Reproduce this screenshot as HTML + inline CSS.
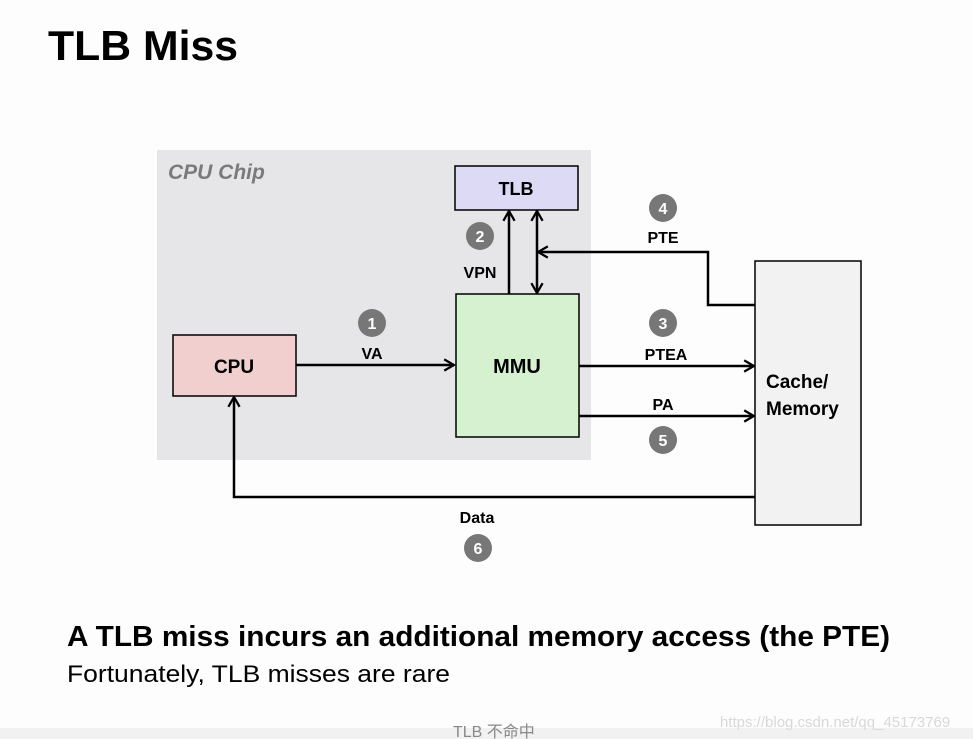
<!DOCTYPE html>
<html><head><meta charset="utf-8"><style>
html,body{margin:0;padding:0;background:#fff;}
svg{display:block;font-family:"Liberation Sans","Noto Sans CJK SC",sans-serif;}
.b{font-weight:bold;}
</style></head><body>
<svg width="973" height="739" viewBox="0 0 973 739" xmlns="http://www.w3.org/2000/svg">
<defs>
<marker id="a" viewBox="0 0 10 10" refX="9" refY="5" markerWidth="14" markerHeight="14" orient="auto-start-reverse" markerUnits="userSpaceOnUse">
<polyline points="2,1 9,5 2,9" fill="none" stroke="#000" stroke-width="1.6"/>
</marker>
</defs>
<rect x="0" y="0" width="973" height="739" fill="#fdfdfd"/>
<text x="48" y="60" class="b" font-size="42" fill="#000" textLength="190" lengthAdjust="spacingAndGlyphs">TLB Miss</text>
<rect x="157" y="150" width="434" height="310" fill="#e6e5e8"/>
<text x="168" y="179" font-size="21" font-weight="bold" font-style="italic" fill="#7a7a7a">CPU Chip</text>
<rect x="455" y="166" width="123" height="44" fill="#dcdaf5" stroke="#000" stroke-width="1.5"/>
<text x="516" y="195" class="b" font-size="18" text-anchor="middle">TLB</text>
<rect x="173" y="335" width="123" height="61" fill="#f2cfcf" stroke="#000" stroke-width="1.5"/>
<text x="234" y="373" class="b" font-size="19" text-anchor="middle">CPU</text>
<rect x="456" y="294" width="123" height="143" fill="#d5f1cf" stroke="#000" stroke-width="1.5"/>
<text x="517" y="373" class="b" font-size="20" text-anchor="middle">MMU</text>
<rect x="755" y="261" width="106" height="264" fill="#f3f2f3" stroke="#000" stroke-width="1.5"/>
<text x="766" y="388" class="b" font-size="19">Cache/</text>
<text x="766" y="415" class="b" font-size="19">Memory</text>
<g stroke="#000" stroke-width="2.5" fill="none">
<line x1="296" y1="365" x2="454" y2="365" marker-end="url(#a)"/>
<line x1="509" y1="294" x2="509" y2="211" marker-end="url(#a)"/>
<line x1="537" y1="211" x2="537" y2="293" marker-start="url(#a)" marker-end="url(#a)"/>
<polyline points="755,305 708,305 708,252 538,252" marker-end="url(#a)"/>
<line x1="579" y1="366" x2="754" y2="366" marker-end="url(#a)"/>
<line x1="579" y1="416" x2="754" y2="416" marker-end="url(#a)"/>
<polyline points="755,497 234,497 234,397" marker-end="url(#a)"/>
</g>
<g fill="#777">
<circle cx="372" cy="323" r="14"/><circle cx="480" cy="236" r="14"/>
<circle cx="663" cy="323" r="14"/><circle cx="663" cy="208" r="14"/>
<circle cx="663" cy="440" r="14"/><circle cx="478" cy="548" r="14"/>
</g>
<g fill="#fff" class="b" font-size="16" text-anchor="middle">
<text x="372" y="329">1</text><text x="480" y="242">2</text>
<text x="663" y="329">3</text><text x="663" y="214">4</text>
<text x="663" y="446">5</text><text x="478" y="554">6</text>
</g>
<g class="b" font-size="16" text-anchor="middle" fill="#000">
<text x="372" y="359">VA</text><text x="480" y="278">VPN</text>
<text x="666" y="360">PTEA</text><text x="663" y="243">PTE</text>
<text x="663" y="410">PA</text><text x="477" y="523">Data</text>
</g>
<text x="67" y="646" class="b" font-size="29" fill="#000" textLength="823" lengthAdjust="spacingAndGlyphs">A TLB miss incurs an additional memory access (the PTE)</text>
<text x="67" y="682" font-size="24" fill="#000" textLength="383" lengthAdjust="spacingAndGlyphs">Fortunately, TLB misses are rare</text>
<rect x="0" y="728" width="973" height="11" fill="#f1f1f1"/>
<text x="453" y="737" font-size="16" fill="#888">TLB 不命中</text>
<text x="720" y="727" font-size="15" fill="#d8d8d8">https://blog.csdn.net/qq_45173769</text>
</svg>
</body></html>
